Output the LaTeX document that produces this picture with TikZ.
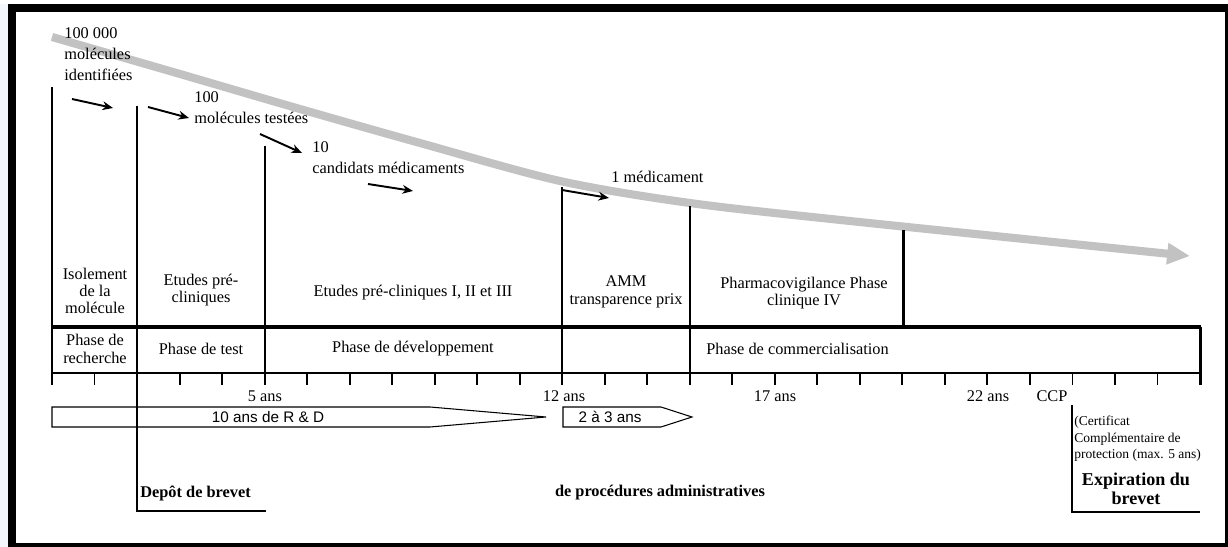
\documentclass[tikz,border=0pt]{standalone}
\usepackage{fontspec}
\setmainfont{Liberation Serif}
\setsansfont{Liberation Sans}
\usepackage{tikz}
\usetikzlibrary{arrows.meta}

\definecolor{flowgray}{HTML}{C2C2C2}
\definecolor{panelblue}{HTML}{F3F6FB}

\begin{document}
\begin{tikzpicture}[x=0.02cm,y=-0.02cm]
\tikzstyle{every node}=[inner sep=0pt,font=\fontsize{9.3}{11.9}\selectfont]
\tikzstyle{celltext}=[align=center,font=\fontsize{9.3}{9.9}\selectfont]
\tikzstyle{thinrule}=[line width=0.85pt]
\tikzstyle{thickrule}=[line width=1.7pt]
\tikzstyle{flow}=[line width=4.6pt,draw=flowgray]
\tikzstyle{pointer}=[-{Stealth[length=6pt,width=5pt]},line width=1.1pt]
\tikzstyle{durbox}=[draw,line width=0.6pt]
\tikzstyle{durtext}=[font=\sffamily\fontsize{8.7}{10}\selectfont]
\tikzstyle{boldtext}=[font=\bfseries\fontsize{9.3}{11}\selectfont]

\useasboundingbox (0,0) rectangle (1228,547);

%% Frame
\fill[panelblue] (0,4) rectangle (8,547);
\fill[black] (8,4) rectangle (1228,547);
\fill[white] (16,12) rectangle (1225,543);

%% Grey flow arrow
\coordinate (flowstart) at (52,37);
\coordinate (flowend) at (1190,256);
\draw[flow,-{Triangle[length=13pt,width=11.5pt]}] plot[smooth,tension=0.5]
    coordinates {(flowstart) (180,74) (300,109) (420,143) (560,181) (690,203) (850,221) (flowend)};

%% Molecule counts
\node[anchor=west,align=left] (idmol) at (64,54) {100 000\\molécules\\identifiées};
\node[anchor=west,align=left] (testmol) at (194,108) {100\\molécules testées};
\node[anchor=west,align=left] (candmed) at (312,158) {10\\candidats médicaments};
\node[anchor=west] (onemed) at (611,177) {1 médicament};

%% Black pointers
\coordinate (pa) at (72,99);  \coordinate (pb) at (113,108);
\coordinate (pc) at (148,107); \coordinate (pd) at (189,118);
\coordinate (pe) at (260,134); \coordinate (pf) at (302,153);
\coordinate (pg) at (368,184); \coordinate (ph) at (413,191);
\coordinate (pi) at (562,190); \coordinate (pj) at (609,198);
\draw[pointer] (pa) -- (pb);
\draw[pointer] (pc) -- (pd);
\draw[pointer] (pe) -- (pf);
\draw[pointer] (pg) -- (ph);
\draw[pointer] (pi) -- (pj);

%% Vertical separators
\draw[thinrule] (52,87) -- (52,385);
\draw[thinrule] (137,106) -- (137,511) -- (266,511);
\draw[thickrule] (265,146) -- (265,385);
\draw[thickrule] (562,187) -- (562,385);
\draw[thinrule] (690,206) -- (690,385);
\draw[thickrule] (903,230) -- (903,327);
\draw[thickrule] (1200,327) -- (1200,385);

%% Phase table
\draw[line width=2.8pt] (51,327) -- (1201,327);
\draw[thickrule] (51,373) -- (1201,373);

\node[celltext] (isol) at (95,291) {Isolement\\de la\\molécule};
\node[celltext] (etpre) at (201,290) {Etudes pré-\\cliniques};
\node[celltext] (etclin) at (413,293) {Etudes pré-cliniques I, II et III};
\node[celltext] (amm) at (626,292) {AMM\\transparence prix};
\node[celltext] (pharma) at (804,293) {Pharmacovigilance Phase\\clinique IV};

\node[celltext] (precherche) at (95,349) {Phase de\\recherche};
\node (ptest) at (201,349) {Phase de test};
\node (pdev) at (413,349) {Phase de développement};
\node[anchor=west] (pcomm) at (706,349) {Phase de commercialisation};

%% Time scale
\foreach \k in {0,...,27}
    \draw[line width=1.1pt] ({52+42.52*\k},373) -- ++(0,12);

\node (yfive) at (265,396) {5 ans};
\node (ytwelve) at (564,396) {12 ans};
\node (yseventeen) at (775,396) {17 ans};
\node (ytwentytwo) at (988,396) {22 ans};
\node (ccp) at (1052,396) {CCP};

%% Durations
\draw[durbox] (52,407) -- (430,407) -- (546,417) -- (430,427) -- (52,427) -- cycle;
\node[durtext] (rd) at (268,417) {10 ans de R \& D};
\draw[durbox] (563,407) -- (661,407) -- (692,417) -- (661,427) -- (563,427) -- cycle;
\node[durtext] (admdur) at (610,417) {2 à 3 ans};

%% Patent
\node[boldtext,anchor=west] (depot) at (140,493) {Depôt de brevet};
\node[boldtext] (admin) at (660,493) {de procédures administratives};
\draw[thinrule] (1072,405) -- (1072,512) -- (1200,512);
\node[anchor=west,align=left,font=\fontsize{7.7}{9.4}\selectfont] (ccpnote) at (1074,439)
    {(Certificat\\Complémentaire de\\protection (max. 5 ans)};
\node[align=center,font=\bfseries\fontsize{10.3}{10.8}\selectfont] (expir) at (1136,489)
    {Expiration du\\brevet};
\end{tikzpicture}
\end{document}
